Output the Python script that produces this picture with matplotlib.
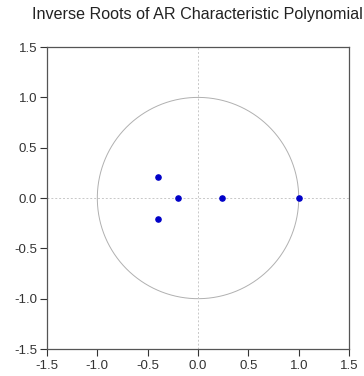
import numpy as np
import matplotlib
matplotlib.use("Agg")
import matplotlib.pyplot as plt

root_re = [-0.40, -0.40, -0.20, 0.24, 1.00]
root_im = [0.21, -0.21, 0.00, 0.00, 0.00]
ticks = [-1.5, -1.0, -0.5, 0.0, 0.5, 1.0, 1.5]
tick_labels = ["-1.5", "-1.0", "-0.5", "0.0", "0.5", "1.0", "1.5"]

plt.rcParams['font.family'] = ['Liberation Sans', 'DejaVu Sans']
fig = plt.figure(figsize=(3.64, 3.76), dpi=100)
ax = fig.add_axes([0.129, 0.0718, 0.830, 0.803])

theta = np.linspace(0, 2 * np.pi, 400)
ax.plot(np.cos(theta), np.sin(theta), color='#b0b0b0', lw=0.7)
ax.axhline(0, color='#c8c8c8', lw=0.7, ls=(0, (2, 2)))
ax.axvline(0, color='#c8c8c8', lw=0.7, ls=(0, (2, 2)))
ax.scatter(root_re, root_im, s=14, color='#0000c8', zorder=3)

ax.set_xlim(-1.5, 1.5)
ax.set_ylim(-1.5, 1.5)
ax.set_xticks(ticks)
ax.set_xticklabels(tick_labels)
ax.set_yticks(ticks)
ax.set_yticklabels(tick_labels)
ax.tick_params(direction='out', length=5, width=0.8, labelsize=9.5, colors='#333333', pad=2)
ax.tick_params(axis='x', pad=3)
for sp in ax.spines.values():
    sp.set_color('#555555')
    sp.set_linewidth(0.9)

fig.text(0.543, 0.962, "Inverse Roots of AR Characteristic Polynomial", ha='center', va='center',
         fontsize=11.6, color='#222222')

fig.savefig("out.png", dpi=100)
